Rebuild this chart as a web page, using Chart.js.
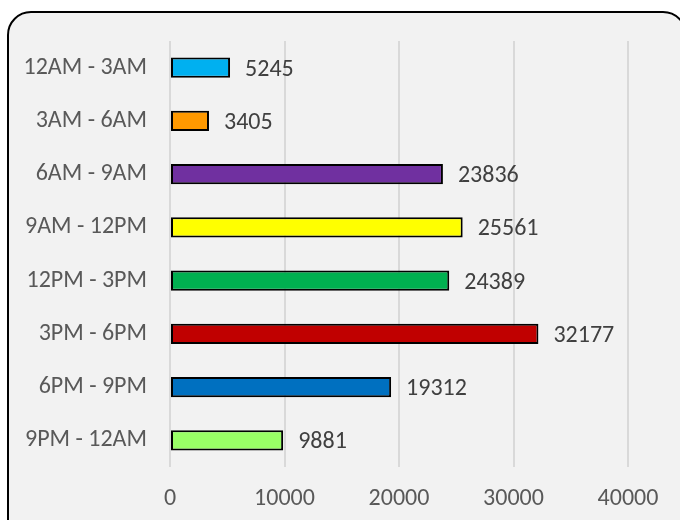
<!DOCTYPE html>
<html>
<head>
    <title>Bars by time of day</title>
    <script src="https://cdn.jsdelivr.net/npm/chart.js"></script>
    <style>
        body {
            margin: 0;
            background: #ffffff;
            width: 680px;
            height: 520px;
            overflow: hidden;
            position: relative;
        }

        .frame {
            position: absolute;
            left: 7px;
            top: 11px;
            width: 680px;
            height: 540px;
            box-sizing: border-box;
            border: 2px solid #000000;
            border-radius: 24px;
            background: #f2f2f2;
        }

        .chart-wrap {
            position: absolute;
            left: 0;
            top: 0;
            width: 680px;
            height: 520px;
        }
    </style>
</head>
<body>
    <div class="frame"></div>
    <div class="chart-wrap">
        <canvas id="timeChart" width="680" height="520"></canvas>
    </div>
    <script>
        const timeSlots = ['12AM - 3AM', '3AM - 6AM', '6AM - 9AM', '9AM - 12PM', '12PM - 3PM', '3PM - 6PM', '6PM - 9PM', '9PM - 12AM'];
        const counts = [5245, 3405, 23836, 25561, 24389, 32177, 19312, 9881];
        const barColors = ['#00b0f0', '#ff9900', '#7030a0', '#ffff00', '#00b050', '#c00000', '#0070c0', '#99ff66'];
        const xTicks = [0, 10000, 20000, 30000, 40000];

        const fontFamily = 'Carlito, "Open Sans", sans-serif';

        // draws the number just past the end of each bar
        const valueLabels = {
            id: 'valueLabels',
            afterDatasetsDraw(chart) {
                const ctx = chart.ctx;
                const meta = chart.getDatasetMeta(0);
                ctx.save();
                ctx.font = '24px ' + fontFamily;
                ctx.fillStyle = '#404040';
                ctx.textAlign = 'left';
                ctx.textBaseline = 'middle';
                meta.data.forEach((bar, i) => {
                    ctx.fillText(String(counts[i]), bar.x + 15, bar.y + 2);
                });
                ctx.restore();
            }
        };

        const ctx = document.getElementById('timeChart').getContext('2d');
        const chart = new Chart(ctx, {
            type: 'bar',
            data: {
                labels: timeSlots,
                datasets: [{
                    data: counts,
                    backgroundColor: barColors,
                    borderColor: '#000000',
                    borderWidth: 2,
                    borderSkipped: false,
                    categoryPercentage: 1,
                    barPercentage: 0.38,
                }],
            },
            options: {
                indexAxis: 'y',
                responsive: false,
                animation: false,
                layout: {
                    padding: { top: 41, right: 52, bottom: 0, left: 0 },
                },
                plugins: {
                    legend: { display: false },
                    tooltip: { enabled: false },
                },
                scales: {
                    x: {
                        min: 0,
                        max: 40000,
                        afterBuildTicks: (scale) => {
                            scale.ticks = xTicks.map(v => ({ value: v }));
                        },
                        afterFit: (scale) => {
                            scale.height = 53;
                        },
                        grid: {
                            color: '#d9d9d9',
                            lineWidth: 2,
                            drawTicks: false,
                        },
                        border: { display: false },
                        ticks: {
                            padding: 18,
                            color: '#595959',
                            font: { family: fontFamily, size: 24 },
                            maxRotation: 0,
                            callback: (value) => String(value),
                        },
                    },
                    y: {
                        afterFit: (scale) => {
                            scale.width = 170;
                        },
                        grid: { display: false, drawTicks: false },
                        border: { display: false },
                        ticks: {
                            padding: 23,
                            color: '#595959',
                            font: { family: fontFamily, size: 24 },
                        },
                    },
                },
            },
            plugins: [valueLabels],
        });
    </script>
</body>
</html>
